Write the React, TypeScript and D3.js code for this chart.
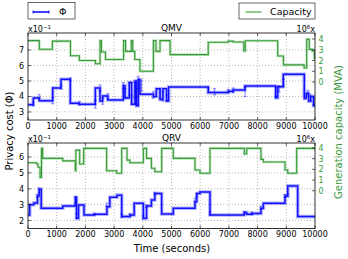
import React, { useRef, useEffect } from 'react';
import * as d3 from 'd3';

// x ticks shared by both panels
const timeTicks = [0, 1000, 2000, 3000, 4000, 5000, 6000, 7000, 8000, 9000, 10000];

// QMV panel
const qmvPhiT = [0, 185, 394, 860, 1150, 1474, 1787, 2345, 2509, 2600, 2777, 3321, 3380, 3530, 3610, 3728, 3780, 3843, 3900, 4370, 4470, 4600, 4700, 4830, 4900, 6282, 6980, 7150, 7560, 8630, 8700, 8896, 9627, 9700, 9780, 9850, 9950];
const qmvPhiV = [0.347, 0.39, 0.373, 0.455, 0.511, 0.356, 0.35, 0.455, 0.371, 0.403, 0.377, 0.47, 0.39, 0.49, 0.35, 0.50, 0.34, 0.51, 0.414, 0.40, 0.45, 0.38, 0.45, 0.371, 0.461, 0.425, 0.433, 0.442, 0.468, 0.392, 0.463, 0.543, 0.39, 0.42, 0.37, 0.40, 0.34];
const qmvCapT = [0, 394, 850, 1480, 1790, 2350, 2510, 2560, 2700, 3330, 3400, 3600, 3650, 3720, 3900, 4370, 4460, 4600, 4950, 6280, 6980, 7150, 7520, 7570, 8700, 8900, 9620, 9710, 9800, 9900, 9980];
const qmvCapV = [3.85, 3.05, 3.8, 2.45, 2.0, 1.7, 3.85, 2.8, 2.1, 3.85, 2.85, 3.85, 2.85, 2.1, 1.0, 3.85, 2.85, 3.85, 2.55, 3.7, 3.8, 3.72, 2.9, 3.84, 2.42, 1.6, 1.3, 3.97, 3.04, 2.9, 2.2];
const qmvErr = [
  [185, 0.35, 0.01], [394, 0.40, 0.012], [860, 0.373, 0.02], [1150, 0.46, 0.012], [1474, 0.51, 0.01],
  [1787, 0.356, 0.012], [2345, 0.35, 0.025], [2509, 0.455, 0.02], [2600, 0.37, 0.02], [2777, 0.403, 0.015],
  [3321, 0.47, 0.02], [3380, 0.42, 0.03], [3530, 0.45, 0.04], [3610, 0.38, 0.03],
  [3728, 0.44, 0.05], [3780, 0.37, 0.03], [3843, 0.49, 0.04], [3960, 0.47, 0.035],
  [4370, 0.41, 0.02], [4600, 0.42, 0.03], [4700, 0.40, 0.03], [4830, 0.39, 0.02], [6282, 0.44, 0.015],
  [6500, 0.43, 0.02], [6980, 0.436, 0.01], [7150, 0.44, 0.015], [7561, 0.43, 0.03], [8630, 0.43, 0.03],
  [8750, 0.45, 0.02], [8896, 0.49, 0.02], [9650, 0.40, 0.02], [9750, 0.42, 0.02], [9850, 0.39, 0.02], [9950, 0.37, 0.025],
];

// QRV panel
const qrvPhiT = [0, 60, 200, 330, 390, 460, 1210, 1650, 1690, 1760, 1950, 2310, 2750, 2850, 3100, 3265, 3554, 3700, 4018, 4130, 4300, 4420, 4657, 5063, 5819, 5880, 5993, 6341, 7536, 7620, 7800, 8118, 8200, 8955, 9050, 9397];
const qrvPhiV = [0.235, 0.30, 0.31, 0.355, 0.397, 0.277, 0.292, 0.347, 0.214, 0.298, 0.235, 0.24, 0.287, 0.347, 0.36, 0.225, 0.235, 0.309, 0.214, 0.292, 0.33, 0.37, 0.241, 0.277, 0.318, 0.37, 0.38, 0.235, 0.25, 0.24, 0.245, 0.277, 0.309, 0.355, 0.418, 0.225];
const qrvCapT = [0, 300, 350, 420, 470, 510, 1210, 1650, 1670, 1800, 1940, 2740, 3090, 3265, 3450, 3550, 4018, 4130, 4300, 4420, 4657, 5063, 5819, 5993, 6341, 7536, 7620, 8118, 8200, 8955, 9050, 9362];
const qrvCapV = [2.62, 2.5, 2.2, 1.25, 3.97, 3.03, 2.8, 1.87, 3.8, 2.5, 3.97, 1.87, 1.63, 3.97, 2.87, 2.62, 3.97, 3.03, 2.1, 1.78, 3.97, 3.03, 1.94, 1.63, 3.97, 3.44, 3.97, 2.94, 2.69, 1.94, 1.63, 3.97];
const qrvErr = [
  [330, 0.355, 0.01], [390, 0.39, 0.015], [1650, 0.33, 0.02], [1690, 0.23, 0.015], [2310, 0.24, 0.006],
  [2750, 0.30, 0.01], [3265, 0.23, 0.01], [3554, 0.235, 0.008], [4018, 0.22, 0.01], [4130, 0.29, 0.008],
  [4420, 0.37, 0.008], [5819, 0.33, 0.012], [5880, 0.36, 0.01], [6341, 0.245, 0.01], [7536, 0.25, 0.008],
  [7800, 0.245, 0.008], [8118, 0.28, 0.01], [8955, 0.355, 0.01], [9050, 0.36, 0.01],
];

const capTicks = [0, 1, 2, 3, 4];

const panels = [
  { title: 'QMV', top: 33, bottom: 120, phiDomain: [0.248, 0.81], capDomain: [-3.53, 4.56], phiTicks: [0.3, 0.4, 0.5, 0.6, 0.7],
    phiT: qmvPhiT, phiV: qmvPhiV, capT: qmvCapT, capV: qmvCapV, err: qmvErr },
  { title: 'QRV', top: 143, bottom: 228.5, phiDomain: [0.15, 0.688], capDomain: [-3.54, 4.47], phiTicks: [0.2, 0.3, 0.4, 0.5, 0.6],
    phiT: qrvPhiT, phiV: qrvPhiV, capT: qrvCapT, capV: qrvCapV, err: qrvErr },
];

const BLUE = '#0000ff';
const GREEN = '#3a9a3a';
const FONT = 'DejaVu Sans';

const App = () => {
  const svgRef = useRef<SVGSVGElement | null>(null);

  useEffect(() => {
    const svg = d3.select(svgRef.current);
    svg.selectAll('*').remove();
    svg.attr('font-family', FONT);

    const left = 28;
    const right = 315;
    const x = d3.scaleLinear().domain([0, 10000]).range([left, right]);

    panels.forEach((p) => {
      const yL = d3.scaleLinear().domain(p.phiDomain).range([p.bottom, p.top]);
      const yR = d3.scaleLinear().domain(p.capDomain).range([p.bottom, p.top]);
      const g = svg.append('g');

      // grid
      g.selectAll('.vgrid').data(timeTicks.slice(1, -1)).enter().append('line')
        .attr('x1', d => x(d)).attr('x2', d => x(d)).attr('y1', p.top).attr('y2', p.bottom)
        .attr('stroke', '#888').attr('stroke-width', 0.6).attr('stroke-dasharray', '1,2');
      g.selectAll('.hgrid').data(p.phiTicks).enter().append('line')
        .attr('x1', left).attr('x2', right).attr('y1', d => yL(d)).attr('y2', d => yL(d))
        .attr('stroke', '#888').attr('stroke-width', 0.6).attr('stroke-dasharray', '1,2');

      const clipId = `clip-${p.title}`;
      svg.append('clipPath').attr('id', clipId).append('rect')
        .attr('x', left).attr('y', p.top).attr('width', right - left).attr('height', p.bottom - p.top);
      const plot = g.append('g').attr('clip-path', `url(#${clipId})`);

      // capacity (right axis)
      const capPts: [number, number][] = p.capT.map((t, i) => [t, p.capV[i]]);
      capPts.push([10000, p.capV[p.capV.length - 1]]);
      const capLine = d3.line<[number, number]>().x(d => x(d[0])).y(d => yR(d[1])).curve(d3.curveStepAfter);
      plot.append('path').attr('d', capLine(capPts)).attr('fill', 'none')
        .attr('stroke', '#8fd08f').attr('stroke-width', 2.6).attr('opacity', 0.6);
      plot.append('path').attr('d', capLine(capPts)).attr('fill', 'none')
        .attr('stroke', GREEN).attr('stroke-width', 1.1);

      // privacy cost (left axis)
      const phiPts: [number, number][] = p.phiT.map((t, i) => [t, p.phiV[i]]);
      phiPts.push([10000, p.phiV[p.phiV.length - 1]]);
      const phiLine = d3.line<[number, number]>().x(d => x(d[0])).y(d => yL(d[1])).curve(d3.curveStepAfter);
      plot.append('path').attr('d', phiLine(phiPts)).attr('fill', 'none')
        .attr('stroke', BLUE).attr('stroke-width', 3.6).attr('opacity', 0.3);
      plot.append('path').attr('d', phiLine(phiPts)).attr('fill', 'none')
        .attr('stroke', BLUE).attr('stroke-width', 1.5).attr('opacity', 0.9);

      // error bars
      const eb = plot.append('g').attr('stroke', BLUE).attr('stroke-width', 0.9).attr('opacity', 0.55);
      p.err.forEach(([t, v, e]) => {
        eb.append('line').attr('x1', x(t)).attr('x2', x(t)).attr('y1', yL(v - e)).attr('y2', yL(v + e));
        eb.append('line').attr('x1', x(t) - 1.5).attr('x2', x(t) + 1.5).attr('y1', yL(v - e)).attr('y2', yL(v - e));
        eb.append('line').attr('x1', x(t) - 1.5).attr('x2', x(t) + 1.5).attr('y1', yL(v + e)).attr('y2', yL(v + e));
      });

      // frame
      g.append('rect').attr('x', left).attr('y', p.top).attr('width', right - left).attr('height', p.bottom - p.top)
        .attr('fill', 'none').attr('stroke', '#000').attr('stroke-width', 0.8);

      // x ticks (inside, top and bottom)
      timeTicks.forEach((t) => {
        g.append('line').attr('x1', x(t)).attr('x2', x(t)).attr('y1', p.bottom).attr('y2', p.bottom - 3).attr('stroke', '#000').attr('stroke-width', 0.6);
        g.append('line').attr('x1', x(t)).attr('x2', x(t)).attr('y1', p.top).attr('y2', p.top + 3).attr('stroke', '#000').attr('stroke-width', 0.6);
      });
      g.selectAll('.xlab').data(timeTicks).enter().append('text')
        .attr('x', d => x(d)).attr('y', p.bottom + 8.5).attr('text-anchor', 'middle')
        .attr('font-size', 8).text(d => d);

      // left ticks
      p.phiTicks.forEach((v) => {
        g.append('line').attr('x1', left).attr('x2', left + 3).attr('y1', yL(v)).attr('y2', yL(v)).attr('stroke', '#000').attr('stroke-width', 0.6);
      });
      g.selectAll('.ylab').data(p.phiTicks).enter().append('text')
        .attr('x', left - 4).attr('y', d => yL(d) + 3).attr('text-anchor', 'end')
        .attr('font-size', 8).text(d => Math.round(d * 10));

      // right ticks
      capTicks.forEach((v) => {
        g.append('line').attr('x1', right).attr('x2', right - 3).attr('y1', yR(v)).attr('y2', yR(v)).attr('stroke', '#000').attr('stroke-width', 0.6);
      });
      g.selectAll('.rlab').data(capTicks).enter().append('text')
        .attr('x', right + 3.5).attr('y', d => yR(d) + 3).attr('fill', GREEN)
        .attr('font-size', 8).text(d => d);

      // offset labels and title
      const off = g.append('text').attr('x', left).attr('y', p.top - 1.5).attr('font-size', 8);
      off.append('tspan').text('x10');
      off.append('tspan').attr('font-size', 5.5).attr('dy', -3).text('−1');
      const off2 = g.append('text').attr('x', right).attr('y', p.top - 1.5).attr('font-size', 8).attr('text-anchor', 'end');
      off2.append('tspan').text('10');
      off2.append('tspan').attr('font-size', 5.5).attr('dy', -3).text('6');
      off2.append('tspan').attr('dy', 3).text('x');
      g.append('text').attr('x', (left + right) / 2).attr('y', p.top - 2).attr('text-anchor', 'middle')
        .attr('font-size', 9).text(p.title);
    });

    // axis labels
    svg.append('text').attr('transform', 'translate(13,131) rotate(-90)').attr('text-anchor', 'middle')
      .attr('font-size', 10).text('Privacy cost (Φ)');
    svg.append('text').attr('transform', 'translate(342,132) rotate(-90)').attr('text-anchor', 'middle')
      .attr('font-size', 10).attr('fill', GREEN).text('Generation capacity (MVA)');
    svg.append('text').attr('x', 172).attr('y', 252).attr('text-anchor', 'middle')
      .attr('font-size', 10).text('Time (seconds)');

    // legends
    const lg1 = svg.append('g');
    lg1.append('rect').attr('x', 28).attr('y', 2.5).attr('width', 47).attr('height', 16.5)
      .attr('fill', '#fff').attr('stroke', '#000').attr('stroke-width', 0.6);
    lg1.append('line').attr('x1', 33).attr('x2', 49).attr('y1', 12).attr('y2', 12).attr('stroke', BLUE).attr('stroke-width', 1.5);
    [33, 49].forEach((lx) => {
      lg1.append('line').attr('x1', lx).attr('x2', lx).attr('y1', 10.5).attr('y2', 13.5).attr('stroke', BLUE).attr('stroke-width', 0.9);
    });
    lg1.append('text').attr('x', 59).attr('y', 15).attr('font-size', 9.5).text('Φ');

    const lg2 = svg.append('g');
    lg2.append('rect').attr('x', 239).attr('y', 3).attr('width', 76).attr('height', 16)
      .attr('fill', '#fff').attr('stroke', '#000').attr('stroke-width', 0.6);
    lg2.append('line').attr('x1', 245.5).attr('x2', 261.5).attr('y1', 12).attr('y2', 12).attr('stroke', GREEN).attr('stroke-width', 1.1);
    lg2.append('text').attr('x', 270).attr('y', 15).attr('font-size', 9.5).text('Capacity');
  }, []);

  return (
    <div style={{ position: 'absolute', left: 0, top: 0 }}>
      <svg ref={svgRef} width={348} height={259} style={{ display: 'block', background: '#fff' }} />
    </div>
  );
};

export default App;
